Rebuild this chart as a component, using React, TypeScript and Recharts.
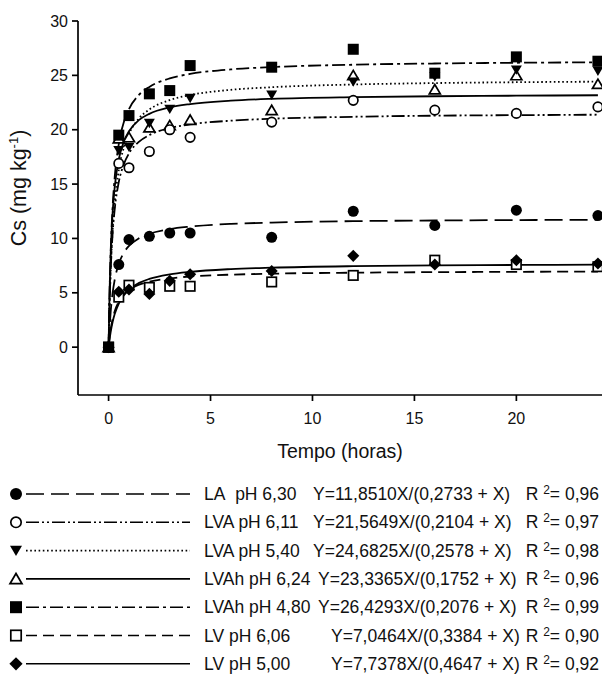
import React from 'react';
import { ComposedChart, Line, Scatter, XAxis, YAxis } from 'recharts';

// sampling times (h)
const times = [0, 0.5, 1, 2, 3, 4, 8, 12, 16, 20, 24];

const la630 = [0, 7.6, 9.9, 10.2, 10.5, 10.5, 10.1, 12.5, 11.2, 12.6, 12.1];
const lva611 = [0, 16.9, 16.5, 18.0, 20.0, 19.3, 20.7, 22.7, 21.8, 21.5, 22.1];
const lva540 = [0, 18.1, 18.4, 20.6, 21.9, 22.9, 23.2, 24.4, 24.9, 25.5, 25.4];
const lvah624 = [0, 19.2, 19.3, 20.2, 20.4, 20.9, 21.8, 25.0, 23.7, 25.0, 24.2];
const lvah480 = [0, 19.5, 21.3, 23.3, 23.6, 25.9, 25.75, 27.4, 25.2, 26.7, 26.3];
const lv606 = [0, 4.6, 5.7, 5.5, 5.6, 5.6, 6.0, 6.6, 8.0, 7.6, 7.4];
const lv500 = [0, 5.1, 5.3, 4.9, 6.1, 6.7, 7.0, 8.4, 7.6, 8.0, 7.7];

// fitted curves
const fitX = [0, 0.05, 0.1, 0.2, 0.3, 0.5, 0.75, 1, 1.5, 2, 3, 4, 6, 8, 12, 16, 20, 24];
const la630Fit = [0, 1.83, 3.18, 5.01, 6.2, 7.66, 8.69, 9.31, 10.03, 10.43, 10.86, 11.09, 11.34, 11.46, 11.59, 11.65, 11.69, 11.72];
const lva611Fit = [0, 4.14, 6.95, 10.51, 12.68, 15.18, 16.84, 17.82, 18.91, 19.51, 20.15, 20.49, 20.83, 21.01, 21.19, 21.29, 21.34, 21.38];
const lva540Fit = [0, 4.01, 6.9, 10.78, 13.28, 16.29, 18.37, 19.62, 21.06, 21.86, 22.73, 23.19, 23.67, 23.91, 24.16, 24.29, 24.37, 24.42];
const lvah624Fit = [0, 5.18, 8.48, 12.44, 14.73, 17.28, 18.92, 19.86, 20.9, 21.46, 22.05, 22.36, 22.67, 22.84, 23.0, 23.08, 23.13, 23.17];
const lvah480Fit = [0, 5.13, 8.59, 12.97, 15.62, 18.68, 20.7, 21.89, 23.22, 23.94, 24.72, 25.13, 25.55, 25.76, 25.98, 26.09, 26.16, 26.2];
const lv606Fit = [0, 0.91, 1.61, 2.62, 3.31, 4.2, 4.86, 5.27, 5.75, 6.03, 6.33, 6.5, 6.67, 6.76, 6.85, 6.9, 6.93, 6.95];
const lv500Fit = [0, 0.75, 1.37, 2.33, 3.04, 4.01, 4.78, 5.28, 5.91, 6.28, 6.7, 6.93, 7.18, 7.31, 7.45, 7.52, 7.56, 7.59];

const names = ['LA\u00a0 pH 6,30', 'LVA pH 6,11', 'LVA pH 5,40', 'LVAh pH 6,24', 'LVAh pH 4,80', 'LV pH 6,06', 'LV pH 5,00'];
const equations = [
  'Y=11,8510X/(0,2733 + X)',
  'Y=21,5649X/(0,2104 + X)',
  'Y=24,6825X/(0,2578 + X)',
  'Y=23,3365X/(0,1752 + X)',
  'Y=26,4293X/(0,2076 + X)',
  'Y=7,0464X/(0,3384 + X)',
  'Y=7,7378X/(0,4647 + X)',
];
const r2 = ['0,96', '0,97', '0,98', '0,96', '0,99', '0,90', '0,92'];

const xTicks = [0, 5, 10, 15, 20];
const yTicks = [0, 5, 10, 15, 20, 25, 30];

const FONT = '"Liberation Sans", Arial, Helvetica, sans-serif';
const INK = '#111';

type Kind = 'dot' | 'ring' | 'triDown' | 'triUp' | 'square' | 'box' | 'diamond';

const series = [
  { pts: la630, fit: la630Fit, kind: 'dot' as Kind, dash: '18 7' },
  { pts: lva611, fit: lva611Fit, kind: 'ring' as Kind, dash: '13 3 2 3 2 3' },
  { pts: lva540, fit: lva540Fit, kind: 'triDown' as Kind, dash: '1.6 2.6' },
  { pts: lvah624, fit: lvah624Fit, kind: 'triUp' as Kind, dash: undefined },
  { pts: lvah480, fit: lvah480Fit, kind: 'square' as Kind, dash: '13 4 3 4' },
  { pts: lv606, fit: lv606Fit, kind: 'box' as Kind, dash: '11 6' },
  { pts: lv500, fit: lv500Fit, kind: 'diamond' as Kind, dash: undefined },
];

const toXY = (xs: number[], ys: number[]) => xs.map((x, i) => ({ x, y: ys[i] }));

function Marker({ kind, cx, cy, s }: { kind: Kind; cx: number; cy: number; s: number }) {
  const h = s / 2;
  switch (kind) {
    case 'dot':
      return <circle cx={cx} cy={cy} r={h} fill="#000" />;
    case 'ring':
      return <circle cx={cx} cy={cy} r={h - 0.8} fill="#fff" stroke="#000" strokeWidth={1.7} />;
    case 'triDown':
      return <polygon points={`${cx - h},${cy - h * 0.8} ${cx + h},${cy - h * 0.8} ${cx},${cy + h * 0.9}`} fill="#000" />;
    case 'triUp':
      return (
        <polygon
          points={`${cx},${cy - h * 0.9} ${cx - h},${cy + h * 0.8} ${cx + h},${cy + h * 0.8}`}
          fill="#fff"
          stroke="#000"
          strokeWidth={1.7}
        />
      );
    case 'square':
      return <rect x={cx - h} y={cy - h} width={s} height={s} fill="#000" />;
    case 'box':
      return <rect x={cx - h + 0.8} y={cy - h + 0.8} width={s - 1.6} height={s - 1.6} fill="#fff" stroke="#000" strokeWidth={1.7} />;
    case 'diamond':
      return <polygon points={`${cx},${cy - h * 1.1} ${cx + h * 1.1},${cy} ${cx},${cy + h * 1.1} ${cx - h * 1.1},${cy}`} fill="#000" />;
  }
  return null;
}

// open markers first so the filled ones sit on top at t = 0
const scatterOrder = [3, 5, 1, 2, 4, 6, 0];

function Legend() {
  return (
    <svg width={607} height={230} style={{ position: 'absolute', left: 0, top: 470 }}>
      {series.map((s, i) => {
        const cy = 24 + i * 28.3;
        const eqX = i >= 5 ? 331 : i >= 3 ? 318 : 313;
        return (
          <g key={i} fontSize={17.5} fill={INK}>
            <Marker kind={s.kind} cx={16} cy={cy} s={12} />
            <line x1={26} x2={190} y1={cy} y2={cy} stroke="#000" strokeWidth={1.6} strokeDasharray={s.dash} />
            <text x={204} y={cy + 6}>{names[i]}</text>
            <text x={eqX} y={cy + 6}>{equations[i]}</text>
            <text x={599} y={cy + 6} textAnchor="end">
              R <tspan fontSize={12} dy={-6}>2</tspan>
              <tspan dy={6}>= {r2[i]}</tspan>
            </text>
          </g>
        );
      })}
    </svg>
  );
}

export default function App() {
  return (
    <div style={{ position: 'absolute', left: 0, top: 0, width: 607, height: 700, background: '#fff', fontFamily: FONT }}>
      <ComposedChart width={607} height={470} margin={{ top: 21, right: 5, left: 8, bottom: 15 }}>
        <XAxis
          type="number"
          dataKey="x"
          domain={[-1.5, 24.2]}
          ticks={xTicks}
          allowDataOverflow
          height={60}
          stroke="#000"
          strokeWidth={1.7}
          tickSize={6}
          tickMargin={12}
          tick={{ fill: INK, fontSize: 16 }}
          label={{
            content: () => (
              <text x={340} y={458} textAnchor="middle" fontSize={19.5} fill={INK}>
                Tempo (horas)
              </text>
            ),
          }}
        />
        <YAxis
          type="number"
          dataKey="y"
          domain={[-4.4, 30]}
          ticks={yTicks}
          allowDataOverflow
          width={70}
          stroke="#000"
          strokeWidth={1.7}
          tickSize={6}
          tickMargin={4}
          tick={{ fill: INK, fontSize: 16 }}
          label={{
            content: () => (
              <text transform="translate(26,188) rotate(-90)" textAnchor="middle" fontSize={21.5} fill={INK}>
                Cs (mg kg<tspan fontSize={13} dy={-8}>-1</tspan>
                <tspan dy={8}>)</tspan>
              </text>
            ),
          }}
        />
        {series.map((s, i) => (
          <Line
            key={'f' + i}
            data={toXY(fitX, s.fit)}
            dataKey="y"
            type="monotone"
            stroke="#000"
            strokeWidth={1.8}
            strokeDasharray={s.dash}
            dot={false}
            activeDot={false}
            isAnimationActive={false}
          />
        ))}
        {scatterOrder.map((i) => (
          <Scatter
            key={'p' + i}
            data={toXY(times, series[i].pts)}
            dataKey="y"
            isAnimationActive={false}
            shape={(p: any) => <Marker kind={series[i].kind} cx={p.cx} cy={p.cy} s={11} />}
          />
        ))}
      </ComposedChart>
      <Legend />
    </div>
  );
}
